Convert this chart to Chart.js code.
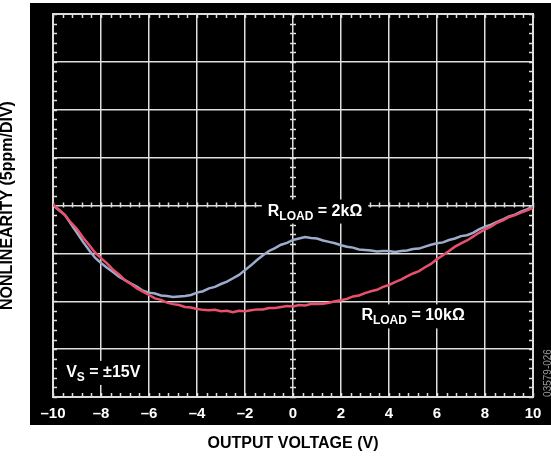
<!DOCTYPE html>
<html>
<head>
<meta charset="utf-8">
<script src="https://cdn.jsdelivr.net/npm/chart.js@4.4.1/dist/chart.umd.min.js"></script>
<style>
    html, body { margin: 0; padding: 0; background: #fff; }
</style>
</head>
<body>
<canvas id="grafico" width="551" height="456"></canvas>
<script>
// output voltage (V), one sample every 0.25 V
const voltaje = [
    -10, -9.75, -9.5, -9.25, -9, -8.75, -8.5, -8.25, -8, -7.75,
    -7.5, -7.25, -7, -6.75, -6.5, -6.25, -6, -5.75, -5.5, -5.25,
    -5, -4.75, -4.5, -4.25, -4, -3.75, -3.5, -3.25, -3, -2.75,
    -2.5, -2.25, -2, -1.75, -1.5, -1.25, -1, -0.75, -0.5, -0.25,
    0, 0.25, 0.5, 0.75, 1, 1.25, 1.5, 1.75, 2, 2.25,
    2.5, 2.75, 3, 3.25, 3.5, 3.75, 4, 4.25, 4.5, 4.75,
    5, 5.25, 5.5, 5.75, 6, 6.25, 6.5, 6.75, 7, 7.25,
    7.5, 7.75, 8, 8.25, 8.5, 8.75, 9, 9.25, 9.5, 9.75, 10
];

// nonlinearity in ppm, RLOAD = 10k
const carga10k = [
    0.15, -0.45, -1.0, -1.8, -2.45, -3.35, -4.1, -4.9, -5.5, -6.05,
    -6.7, -7.2, -7.8, -8.2, -8.65, -9.0, -9.35, -9.7, -9.85, -10.15,
    -10.3, -10.4, -10.6, -10.65, -10.8, -10.9, -10.95, -10.9, -11.05, -11.0,
    -11.15, -11.0, -11.05, -10.95, -10.85, -10.85, -10.7, -10.7, -10.6, -10.5,
    -10.55, -10.4, -10.45, -10.3, -10.3, -10.25, -10.15, -10.0, -9.9, -9.75,
    -9.5, -9.4, -9.15, -8.95, -8.8, -8.5, -8.3, -8.0, -7.75, -7.4,
    -7.1, -6.85, -6.45, -6.1, -5.6, -5.2, -4.75, -4.3, -3.95, -3.65,
    -3.25, -2.85, -2.5, -2.2, -1.8, -1.55, -1.2, -1.0, -0.75, -0.5, -0.25
];

// nonlinearity in ppm, RLOAD = 2k
const carga2k = [
    0.05, -0.5, -1.0, -1.95, -2.85, -3.8, -4.65, -5.45, -6.0, -6.5,
    -6.95, -7.45, -7.8, -8.15, -8.5, -8.9, -9.1, -9.2, -9.4, -9.45,
    -9.55, -9.5, -9.45, -9.35, -9.1, -8.95, -8.65, -8.5, -8.2, -7.95,
    -7.6, -7.25, -6.75, -6.25, -5.7, -5.2, -4.75, -4.45, -4.1, -3.9,
    -3.6, -3.45, -3.3, -3.4, -3.45, -3.65, -3.8, -3.95, -4.15, -4.3,
    -4.4, -4.6, -4.65, -4.7, -4.8, -4.75, -4.75, -4.85, -4.75, -4.7,
    -4.55, -4.5, -4.3, -4.1, -3.95, -3.85, -3.6, -3.45, -3.2, -3.1,
    -2.85, -2.5, -2.2, -2.0, -1.7, -1.45, -1.15, -0.95, -0.65, -0.4, -0.1
];

const ticksX = [-10, -8, -6, -4, -2, 0, 2, 4, 6, 8, 10];
const ticksY = [-20, -15, -10, -5, 0, 5, 10, 15, 20];

// text placed on the plot: anchor in data units (start of text, baseline)
const etiquetas = [
    { x: -1.05, y: -1.05, base: 'R', sub: 'LOAD', resto: ' = 2kΩ' },
    { x: 2.85, y: -12.0, base: 'R', sub: 'LOAD', resto: ' = 10kΩ' },
    { x: -9.45, y: -17.9, base: 'V', sub: 'S', resto: ' = ±15V' }
];

const fuente = '"Liberation Sans", Arial, Helvetica, sans-serif';
const colorRejilla = '#dedede';

function formatoTick(v) {
    return v < 0 ? '\u2013' + Math.abs(v) : String(v);
}

// black panel, frame and the small division ticks
const panelScope = {
    id: 'panelScope',
    beforeDraw(chart) {
        const ctx = chart.ctx;
        ctx.save();
        ctx.fillStyle = '#000';
        ctx.fillRect(30, 3, chart.width - 30, 422);
        ctx.restore();
    },
    beforeDatasetsDraw(chart) {
        const ctx = chart.ctx;
        const a = chart.chartArea;
        const sx = chart.scales.x;
        const sy = chart.scales.y;
        const x0 = sx.getPixelForValue(0);
        const y0 = sy.getPixelForValue(0);

        ctx.save();
        ctx.strokeStyle = colorRejilla;
        ctx.lineWidth = 1.5;
        ctx.beginPath();
        for (let v = -10; v <= 10.001; v += 0.4) {
            const px = Math.round(sx.getPixelForValue(v)) + 0.5;
            ctx.moveTo(px, a.top); ctx.lineTo(px, a.top + 4);
            ctx.moveTo(px, a.bottom); ctx.lineTo(px, a.bottom - 4);
            ctx.moveTo(px, y0 - 3); ctx.lineTo(px, y0 + 2);
        }
        for (let v = -20; v <= 20.001; v += 1) {
            const py = Math.round(sy.getPixelForValue(v)) + 0.5;
            ctx.moveTo(a.left, py); ctx.lineTo(a.left + 4, py);
            ctx.moveTo(a.right, py); ctx.lineTo(a.right - 4, py);
            ctx.moveTo(x0 - 3, py); ctx.lineTo(x0 + 3, py);
        }
        ctx.stroke();

        ctx.lineWidth = 2;
        ctx.strokeRect(a.left, a.top, a.right - a.left, a.bottom - a.top);
        ctx.restore();
    },
    afterDatasetsDraw(chart) {
        const ctx = chart.ctx;
        const sx = chart.scales.x;
        const sy = chart.scales.y;
        ctx.save();
        ctx.textBaseline = 'alphabetic';
        etiquetas.forEach(e => {
            const px = sx.getPixelForValue(e.x);
            const py = sy.getPixelForValue(e.y);
            ctx.font = 'bold 16px ' + fuente;
            const w1 = ctx.measureText(e.base).width;
            const w3 = ctx.measureText(e.resto).width;
            ctx.font = 'bold 12px ' + fuente;
            const w2 = ctx.measureText(e.sub).width;

            ctx.fillStyle = '#000';
            ctx.fillRect(px - 6, py - 16, w1 + w2 + w3 + 12, 24);

            ctx.fillStyle = '#fff';
            ctx.font = 'bold 16px ' + fuente;
            ctx.fillText(e.base, px, py);
            ctx.fillText(e.resto, px + w1 + w2, py);
            ctx.font = 'bold 12px ' + fuente;
            ctx.fillText(e.sub, px + w1, py + 4);
        });

        // figure number along the right edge
        ctx.translate(548, 373);
        ctx.rotate(-Math.PI / 2);
        ctx.font = '10px ' + fuente;
        ctx.fillStyle = '#9a9a9a';
        ctx.textAlign = 'center';
        ctx.textBaseline = 'middle';
        ctx.fillText('03579-026', 0, 0);
        ctx.restore();
    }
};

const ctxGrafico = document.getElementById('grafico').getContext('2d');
new Chart(ctxGrafico, {
    type: 'line',
    data: {
        datasets: [
            {
                label: 'RLOAD = 10k',
                data: voltaje.map((v, i) => ({ x: v, y: carga10k[i] })),
                borderColor: '#e8506c',
                borderWidth: 2.5
            },
            {
                label: 'RLOAD = 2k',
                data: voltaje.map((v, i) => ({ x: v, y: carga2k[i] })),
                borderColor: '#9cacca',
                borderWidth: 2.5
            }
        ]
    },
    options: {
        responsive: false,
        animation: false,
        layout: { padding: { top: 14, right: 18, left: 0, bottom: 0 } },
        elements: { point: { radius: 0 }, line: { tension: 0 } },
        plugins: { legend: { display: false }, tooltip: { enabled: false } },
        scales: {
            x: {
                type: 'linear',
                min: -10,
                max: 10,
                afterBuildTicks: s => { s.ticks = ticksX.map(v => ({ value: v })); },
                afterFit: s => { s.height = 59; },
                ticks: {
                    color: '#fff',
                    font: { family: fuente, size: 15, weight: 'bold' },
                    padding: 8,
                    autoSkip: false,
                    maxRotation: 0,
                    callback: v => formatoTick(v)
                },
                grid: { color: colorRejilla, lineWidth: 1.5, drawTicks: false },
                border: { display: false },
                title: {
                    display: true,
                    text: 'OUTPUT VOLTAGE (V)',
                    color: '#000',
                    font: { family: fuente, size: 16, weight: 'bold', lineHeight: 1 },
                    padding: { top: 0, bottom: 4 }
                }
            },
            y: {
                type: 'linear',
                min: -20,
                max: 20,
                afterBuildTicks: s => { s.ticks = ticksY.map(v => ({ value: v })); },
                afterFit: s => { s.width = 53; },
                ticks: { display: false },
                grid: { color: colorRejilla, lineWidth: 1.5, drawTicks: false },
                border: { display: false },
                title: {
                    display: true,
                    text: 'NONLINEARITY (5ppm/DIV)',
                    color: '#000',
                    font: { family: fuente, size: 16, weight: 'bold', lineHeight: 1 },
                    padding: 0
                }
            }
        }
    },
    plugins: [panelScope]
});
</script>
</body>
</html>
